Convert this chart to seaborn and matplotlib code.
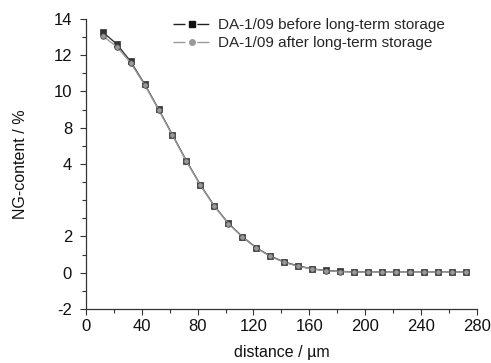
import numpy as np
import pandas as pd
import matplotlib
matplotlib.use("Agg")
import matplotlib.pyplot as plt
import seaborn as sns
from matplotlib.ticker import MultipleLocator
from matplotlib.lines import Line2D

# distance in um
distance = [12, 22, 32, 42, 52, 62, 72, 82, 92, 102, 112, 122, 132, 142,
            152, 162, 172, 182, 192, 202, 212, 222, 232, 242, 252, 262, 272]
# NG content in %
ng_before = [13.27, 12.62, 11.65, 10.41, 9.03, 7.6, 6.17, 4.84, 3.68, 2.73, 1.99,
             1.38, 0.92, 0.59, 0.37, 0.21, 0.12, 0.07, 0.04, 0.03, 0.03, 0.03,
             0.03, 0.03, 0.03, 0.03, 0.03]
ng_after = [13.06, 12.47, 11.58, 10.37, 9.0, 7.57, 6.14, 4.82, 3.66, 2.71, 1.97,
            1.36, 0.9, 0.57, 0.35, 0.2, 0.11, 0.06, 0.03, 0.02, 0.02, 0.02,
            0.02, 0.02, 0.02, 0.02, 0.02]
series = ["DA-1/09 before long-term storage", "DA-1/09 after long-term storage"]

yticks = [14, 12, 10, 8, 6, 2, 0, -2]
ytick_labels = ["14", "12", "10", "8", "4", "2", "0", "-2"]
xticks = [0, 40, 80, 120, 160, 200, 240, 280]

df = pd.DataFrame({
    "distance": distance * 2,
    "ng": ng_before + ng_after,
    "sample": [series[0]] * len(distance) + [series[1]] * len(distance),
})

sns.set_style("ticks")
plt.rcParams['font.family'] = ['Liberation Sans', 'DejaVu Sans']

fig = plt.figure(figsize=(4.91, 3.63), dpi=100)
ax = fig.add_axes([0.175, 0.149, 0.796, 0.799])

line_cols = ["#333333", "#999999"]
sns.lineplot(data=df, x="distance", y="ng", hue="sample", style="sample",
             palette=line_cols, markers=["s", "o"], dashes=False,
             markersize=4, linewidth=1.0, markeredgewidth=0.6,
             markeredgecolor="#444444", legend=False, ax=ax)

ax.set_xlim(0, 280)
ax.set_ylim(-2, 14)
ax.set_xticks(xticks)
ax.set_yticks(yticks)
ax.set_yticklabels(ytick_labels)
ax.xaxis.set_minor_locator(MultipleLocator(20))
ax.yaxis.set_minor_locator(MultipleLocator(1))
ax.tick_params(axis="both", which="major", labelsize=12, length=4, width=0.8,
               color="#333333", labelcolor="#111111")
ax.tick_params(axis="y", which="major", pad=6)
ax.tick_params(axis="both", which="minor", length=3, width=0.8, color="#333333")
for s in ["left", "bottom"]:
    ax.spines[s].set_color("#333333")
    ax.spines[s].set_linewidth(0.9)
sns.despine(ax=ax)

ax.set_xlabel("distance / µm", fontsize=11.5, labelpad=8, color="#111111")
ax.set_ylabel("NG-content / %", fontsize=11.5, labelpad=18, color="#111111")

# legend handles: line - marker - line with gaps
handles = [
    Line2D([], [], color="#222222", lw=1.0, linestyle=(0, (8.6, 8.6)), marker="s",
           markersize=4, markerfacecolor="#111111", markeredgecolor="#111111"),
    Line2D([], [], color="#999999", lw=1.0, linestyle=(0, (8.6, 8.6)), marker="o",
           markersize=4, markerfacecolor="#999999", markeredgecolor="#999999"),
]
fig.legend(handles, series, loc="upper left", bbox_to_anchor=(0.352, 0.95),
           frameon=False, fontsize=11, handlelength=2.45, handletextpad=0.5,
           labelspacing=0.25, borderpad=0, borderaxespad=0)

fig.savefig("out.png", dpi=100)
